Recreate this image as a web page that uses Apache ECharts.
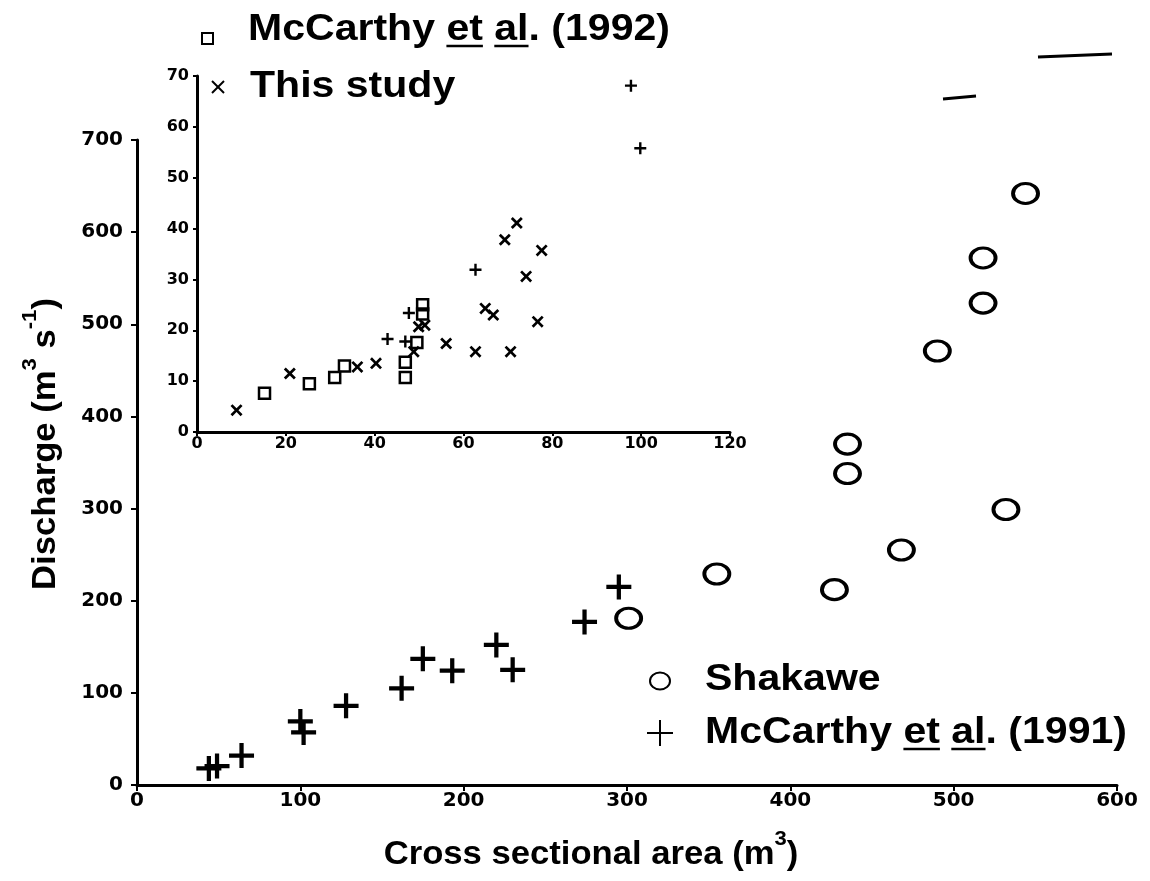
<!DOCTYPE html>
<html>
<head>
<meta charset="utf-8">
<script src="https://cdn.jsdelivr.net/npm/echarts@6/dist/echarts.min.js"></script>
<style>
html,body{margin:0;padding:0;background:#fff;}
#chart{width:1150px;height:881px;}
</style>
</head>
<body>
<div id="chart"></div>
<script>
// ---- Main chart data ----
const mainXTicks = [0, 100, 200, 300, 400, 500, 600];
const mainYTicks = [0, 100, 200, 300, 400, 500, 600, 700];
const shakaweArea = [301, 355, 427, 435, 435, 468, 490, 518, 518, 532, 544];
const shakaweQ    = [181, 229, 212, 370, 338, 255, 471, 523, 572, 299, 642];
const mc1991Area  = [44, 49, 64, 100, 102, 128, 162, 175, 193, 220, 230, 274, 295];
const mc1991Q     = [18, 20.5, 32, 69, 57, 86, 105, 137, 124, 152, 125, 177, 215];

// ---- Inset data ----
const insetXTicks = [0, 20, 40, 60, 80, 100, 120];
const insetYTicks = [0, 10, 20, 30, 40, 50, 60, 70];
const studyArea = [8.9, 20.9, 36.1, 40.3, 48.8, 49.9, 51.3, 56.1, 62.7, 64.9, 66.7, 69.3, 72.0, 70.6, 74.1, 76.7, 77.6];
const studyQ    = [4.3, 11.5, 12.8, 13.5, 15.8, 20.7, 21.0, 17.4, 15.8, 24.3, 23.0, 37.8, 41.1, 15.8, 30.6, 21.7, 35.7];
const mc1992Area = [15.2, 25.3, 31.0, 33.2, 46.9, 46.9, 49.5, 50.8, 50.8];
const mc1992Q    = [7.6, 9.5, 10.7, 13.0, 10.7, 13.7, 17.6, 23.2, 25.0];
const insetPlusArea = [42.9, 46.9, 47.7, 62.7, 97.7, 99.8];
const insetPlusQ    = [18.3, 17.8, 23.4, 31.9, 68.1, 55.8];

const FONT = '"Liberation Sans", Arial, Helvetica, sans-serif';
const TICKFONT = '"DejaVu Sans", "Liberation Sans", sans-serif';
const pairs = (xs, ys) => xs.map((x, i) => [x, ys[i]]);

const plusPath = 'path://M-0.17,-1L0.17,-1L0.17,-0.17L1,-0.17L1,0.17L0.17,0.17L0.17,1L-0.17,1L-0.17,0.17L-1,0.17L-1,-0.17L-0.17,-0.17Z';
const plusThinPath = 'path://M-0.2,-1L0.2,-1L0.2,-0.2L1,-0.2L1,0.2L0.2,0.2L0.2,1L-0.2,1L-0.2,0.2L-1,0.2L-1,-0.2L-0.2,-0.2Z';
const xPath = 'path://M-1,-0.68L-0.68,-1L0,-0.32L0.68,-1L1,-0.68L0.32,0L1,0.68L0.68,1L0,0.32L-0.68,1L-1,0.68L-0.32,0Z';

const chart = echarts.init(document.getElementById('chart'), null, {renderer: 'canvas'});

// legend text measuring for underlines
const LEG_SIZE = 36, LEG_SX = 1.14;
const legendFont = 'bold ' + LEG_SIZE + 'px ' + FONT;
const cv = document.createElement('canvas').getContext('2d');
cv.font = legendFont;
function underlineSegs(text, words, x0, y) {
  const segs = [];
  let from = 0;
  words.forEach(w => {
    const idx = text.indexOf(w, from);
    const a = x0 + cv.measureText(text.slice(0, idx)).width * LEG_SX;
    const b = a + cv.measureText(w).width * LEG_SX;
    segs.push({type: 'line', shape: {x1: a, y1: y, x2: b, y2: y}, style: {stroke: '#000', lineWidth: 2.5}, silent: true});
    from = idx + w.length;
  });
  return segs;
}

function valueAxis(gridIndex, ticks, fontSize, margin, tickLen) {
  return {
    type: 'value', gridIndex,
    min: ticks[0], max: ticks[ticks.length - 1], interval: ticks[1] - ticks[0],
    axisLine: {show: true, onZero: false, lineStyle: {color: '#000', width: 3}},
    axisTick: {show: true, length: tickLen, lineStyle: {color: '#000', width: 2}},
    splitLine: {show: false},
    axisLabel: {color: '#000', fontFamily: TICKFONT, fontWeight: 'bold', fontSize, margin}
  };
}

const t1 = 'McCarthy et al. (1992)';
const t2 = 'McCarthy et al. (1991)';
function legendText(txt, x, y) {
  return {type: 'text', x, y, scaleX: LEG_SX, style: {text: txt, font: legendFont, fill: '#000', verticalAlign: 'middle', align: 'left'}};
}
const titleRich = {
  t: {font: 'bold 33px ' + FONT, fill: '#000', lineHeight: 42, verticalAlign: 'bottom'},
  s: {font: 'bold 21px ' + FONT, fill: '#000', lineHeight: 42, verticalAlign: 'top'}
};

const graphics = [
  // top-left legend (inset series)
  {type: 'rect', shape: {x: 202, y: 33, width: 11, height: 11}, style: {fill: 'none', stroke: '#000', lineWidth: 2}},
  legendText(t1, 248, 30),
  {type: 'line', shape: {x1: 212, y1: 81, x2: 224, y2: 93}, style: {stroke: '#000', lineWidth: 2}},
  {type: 'line', shape: {x1: 224, y1: 81, x2: 212, y2: 93}, style: {stroke: '#000', lineWidth: 2}},
  legendText('This study', 250, 87),
  // bottom-right legend (main series)
  {type: 'ellipse', shape: {cx: 660, cy: 681, rx: 10, ry: 8.5}, style: {fill: 'none', stroke: '#000', lineWidth: 2}},
  legendText('Shakawe', 705, 680),
  {type: 'line', shape: {x1: 647, y1: 733, x2: 673, y2: 733}, style: {stroke: '#000', lineWidth: 2}},
  {type: 'line', shape: {x1: 660, y1: 720, x2: 660, y2: 746}, style: {stroke: '#000', lineWidth: 2}},
  legendText(t2, 705, 733),
  // axis titles
  {type: 'text', x: 591, y: 850, scaleX: 1.05, style: {
    text: '{t|Cross sectional area (m}{s|3}{t|)}', align: 'center', verticalAlign: 'middle', rich: titleRich}},
  {type: 'text', x: 41, y: 444, rotation: Math.PI / 2, scaleX: 1.05, style: {
    text: '{t|Discharge (m}{s|3}{t| s}{s|-1}{t|)}', align: 'center', verticalAlign: 'middle', rich: titleRich}},
  // scan marks in the top-right corner
  {type: 'line', shape: {x1: 943, y1: 99, x2: 976, y2: 96}, style: {stroke: '#000', lineWidth: 3}},
  {type: 'line', shape: {x1: 1038, y1: 57, x2: 1112, y2: 54}, style: {stroke: '#000', lineWidth: 3}}
]
.concat(underlineSegs(t1, ['et', 'al'], 248, 46))
.concat(underlineSegs(t2, ['et', 'al'], 705, 749));

const option = {
  animation: false,
  backgroundColor: '#fff',
  grid: [
    {left: 137, right: 33, top: 140, bottom: 96},
    {left: 197, right: 420, top: 76, bottom: 449}
  ],
  xAxis: [
    valueAxis(0, mainXTicks, 20, 6, 6),
    valueAxis(1, insetXTicks, 16, 4, 4)
  ],
  yAxis: [
    valueAxis(0, mainYTicks, 20, 14, 6),
    valueAxis(1, insetYTicks, 16, 8, 4)
  ],
  series: [
    {name: 'Shakawe', type: 'scatter', xAxisIndex: 0, yAxisIndex: 0, data: pairs(shakaweArea, shakaweQ),
     symbol: 'circle', symbolSize: [25, 20],
     itemStyle: {color: 'rgba(0,0,0,0)', borderColor: '#000', borderWidth: 3.5, opacity: 1}},
    {name: 'McCarthy et al. (1991)', type: 'scatter', xAxisIndex: 0, yAxisIndex: 0, data: pairs(mc1991Area, mc1991Q),
     symbol: plusPath, symbolSize: 25, itemStyle: {color: '#000', opacity: 1}},
    {name: 'McCarthy et al. (1992)', type: 'scatter', xAxisIndex: 1, yAxisIndex: 1, data: pairs(mc1992Area, mc1992Q),
     symbol: 'rect', symbolSize: 11,
     itemStyle: {color: 'rgba(0,0,0,0)', borderColor: '#000', borderWidth: 2.5, opacity: 1}},
    {name: 'This study', type: 'scatter', xAxisIndex: 1, yAxisIndex: 1, data: pairs(studyArea, studyQ),
     symbol: xPath, symbolSize: 12, itemStyle: {color: '#000', opacity: 1}},
    {name: 'McCarthy et al. (1991) inset', type: 'scatter', xAxisIndex: 1, yAxisIndex: 1, data: pairs(insetPlusArea, insetPlusQ),
     symbol: plusThinPath, symbolSize: 12, itemStyle: {color: '#000', opacity: 1}}
  ],
  graphic: graphics
};
chart.setOption(option);
</script>
</body>
</html>
